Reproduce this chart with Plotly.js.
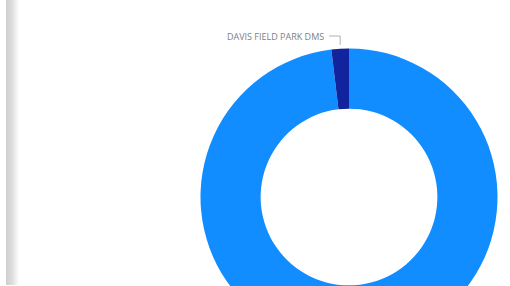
<!DOCTYPE html>
<html>
<head>
<meta charset="utf-8">
<script src="https://cdn.plot.ly/plotly-3.0.1.min.js"></script>
<style>
  html, body { margin:0; padding:0; width:510px; height:286px; overflow:hidden; background:#fff; }
  #shadow { position:absolute; left:6px; top:0; width:13px; height:285px;
            background:linear-gradient(to right, #cfcfcf 0%, #dcdcdc 45%, #f4f4f4 85%, #ffffff 100%); z-index:2; }
  #chart { position:absolute; left:0; top:0; width:510px; height:394px; }
</style>
</head>
<body>
<div id="shadow"></div>
<div id="chart"></div>
<script>
const labels = ['Other', 'DAVIS FIELD PARK DMS'];
const values = [98.1, 1.9];
const colors = ['#118DFF', '#12239E'];
const shownLabel = 'DAVIS FIELD PARK DMS';

const W = 510, H = 394;
const cx = 349, cy = 197, R = 148.5;
const dom = [(cx - R) / W, (cx + R) / W];

// midpoint angle of labelled slice (clockwise from 12 o'clock)
const total = values.reduce((a, b) => a + b, 0);
const idx = labels.indexOf(shownLabel);
const before = values.slice(0, idx).reduce((a, b) => a + b, 0);
const mid = (before + values[idx] / 2) / total * 2 * Math.PI;
const px = cx + R * Math.sin(mid);
const py = cy - R * Math.cos(mid);
const lineY = 36;
const toX = v => v / W, toY = v => 1 - v / H;

const trace = {
  type: 'pie', labels: labels, values: values, hole: 0.595,
  sort: false, direction: 'clockwise', rotation: 0,
  marker: { colors: colors, line: { width: 0 } },
  textinfo: 'none', hoverinfo: 'none', showlegend: false,
  domain: { x: dom, y: [0, 1] }
};

const layout = {
  width: W, height: H, margin: { l: 0, r: 0, t: 0, b: 0 },
  paper_bgcolor: '#fff', plot_bgcolor: '#fff', showlegend: false,
  shapes: [
    { type: 'line', xref: 'paper', yref: 'paper', x0: toX(px), y0: toY(py - 4), x1: toX(px), y1: toY(lineY),
      line: { color: '#b0b0b0', width: 1 } },
    { type: 'line', xref: 'paper', yref: 'paper', x0: toX(px), y0: toY(lineY), x1: toX(px - 11), y1: toY(lineY),
      line: { color: '#b0b0b0', width: 1 } }
  ],
  annotations: [
    { xref: 'paper', yref: 'paper', x: toX(px - 14), y: toY(lineY), xanchor: 'right', yanchor: 'middle',
      text: shownLabel, showarrow: false,
      font: { family: 'Open Sans, sans-serif', size: 9, color: '#808080' } }
  ]
};

Plotly.newPlot('chart', [trace], layout, { displayModeBar: false, staticPlot: true });
</script>
</body>
</html>
